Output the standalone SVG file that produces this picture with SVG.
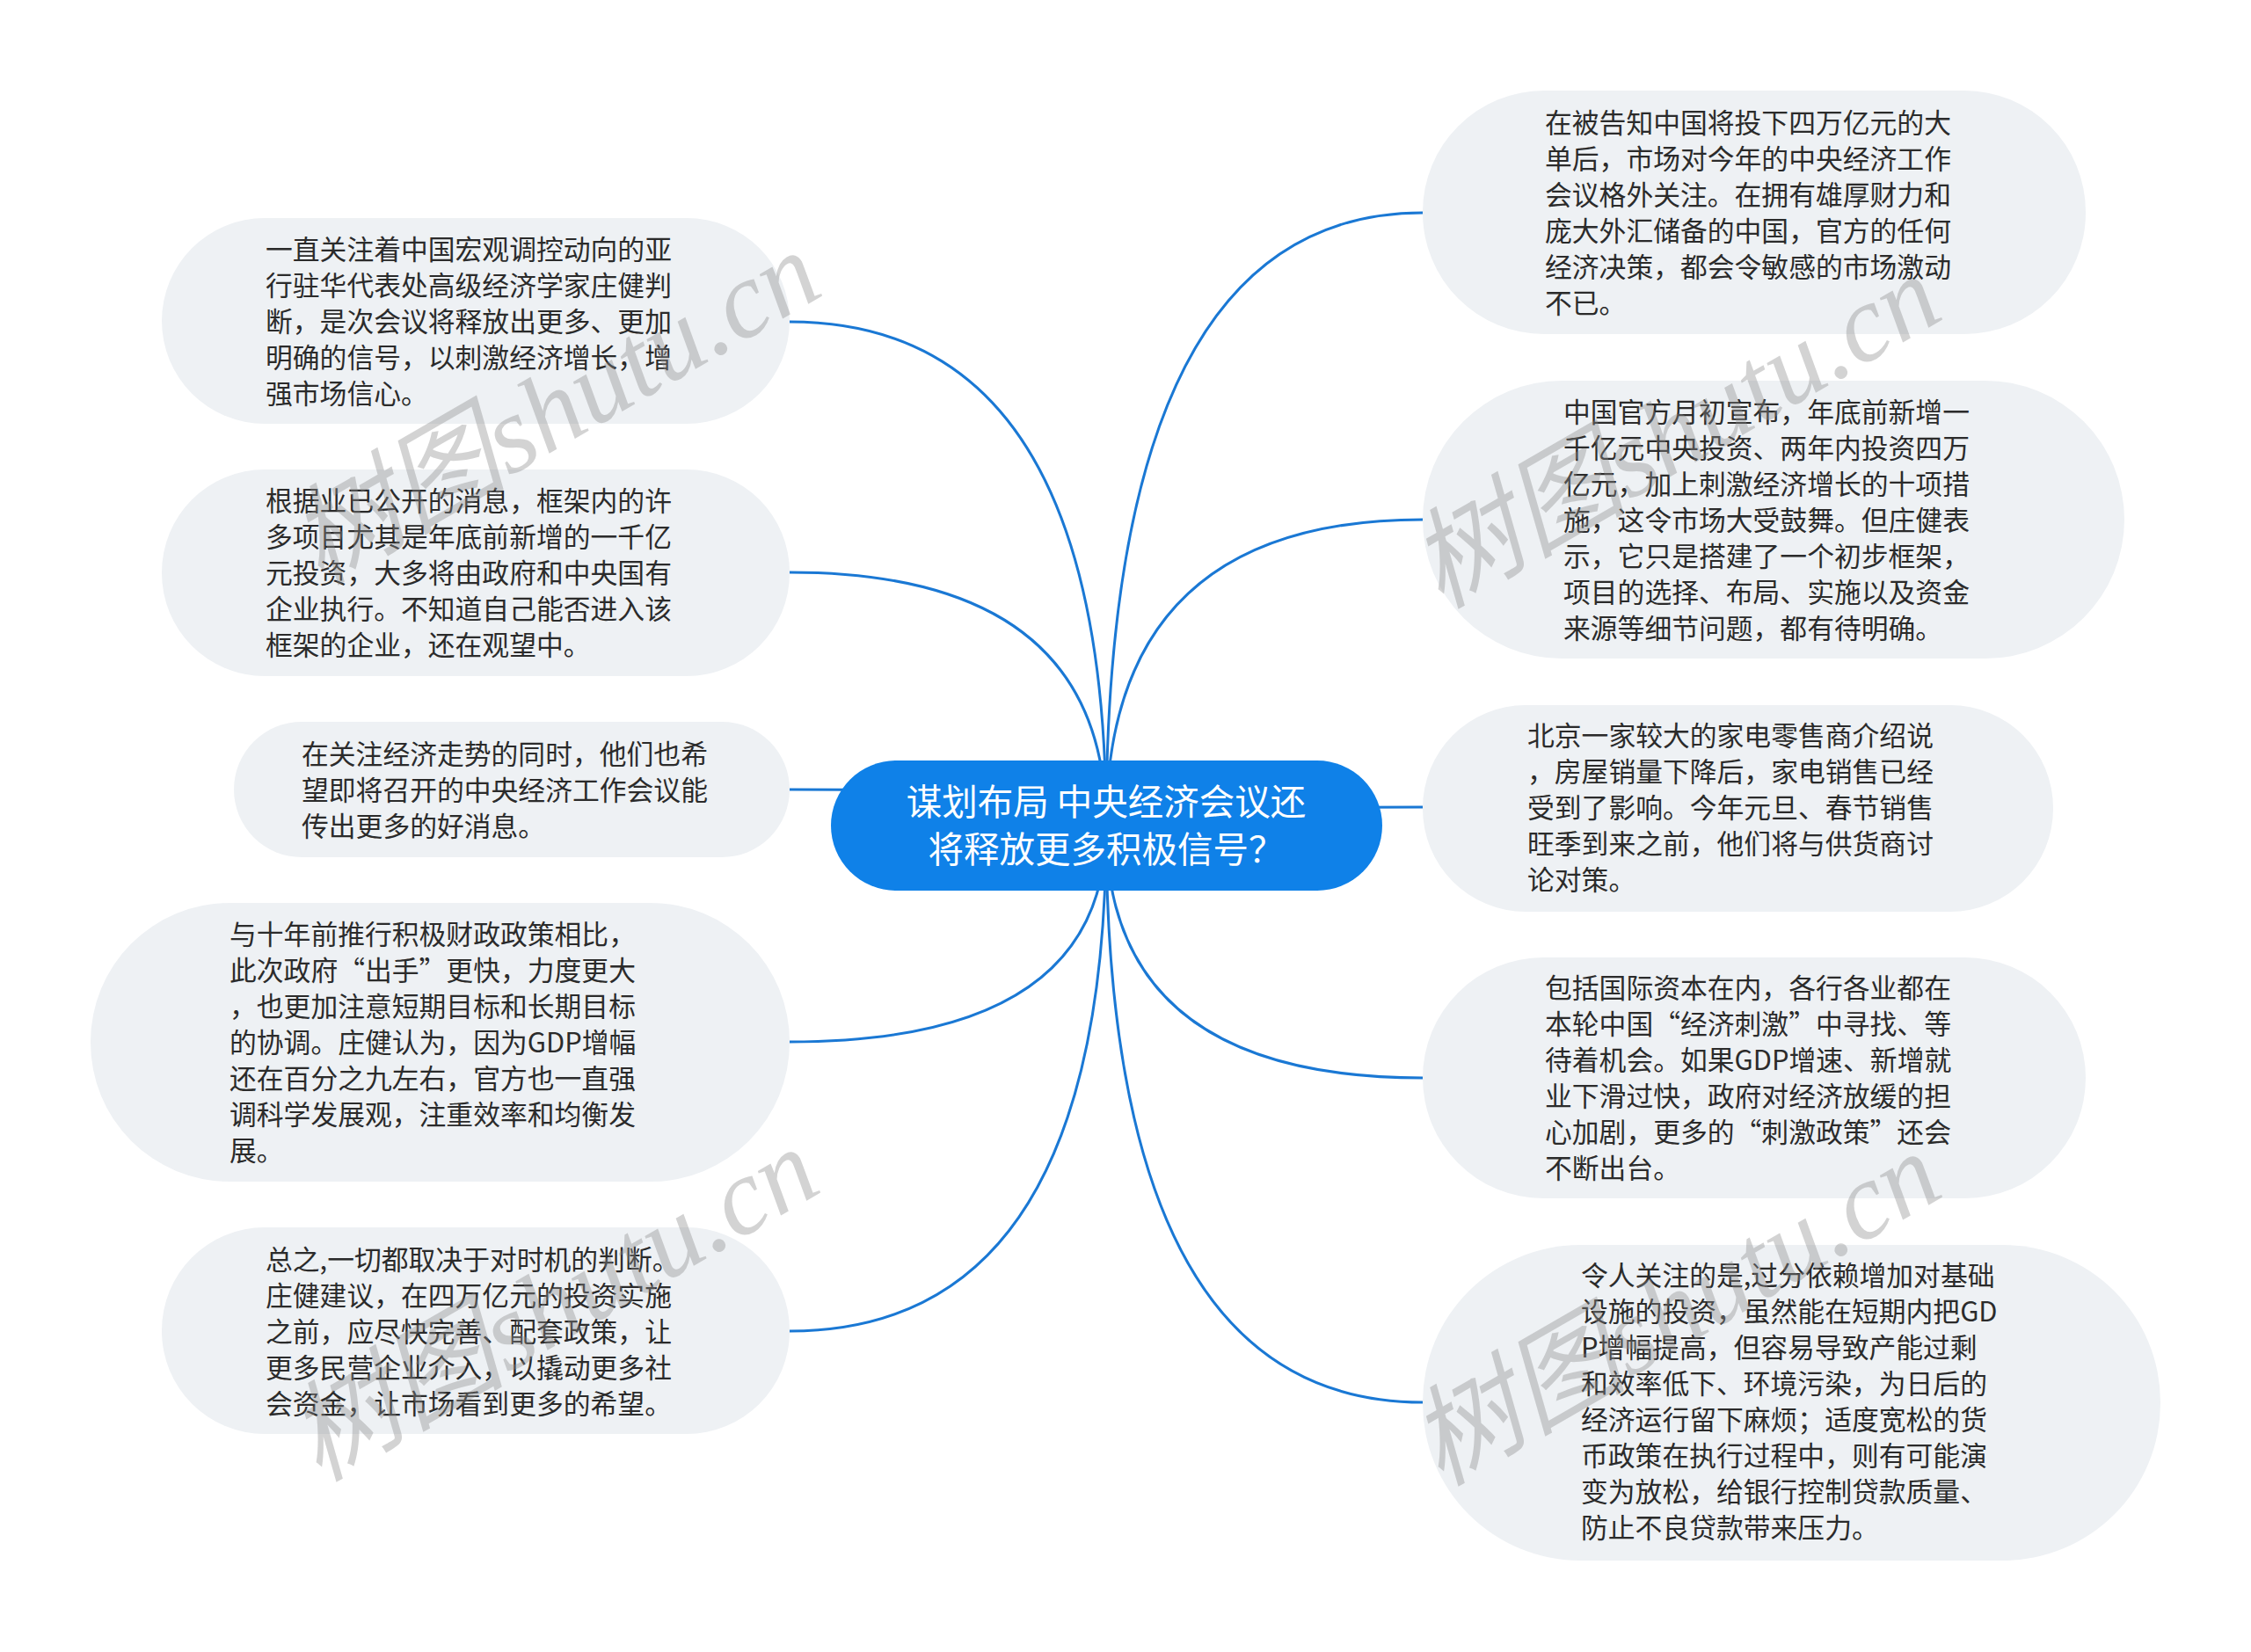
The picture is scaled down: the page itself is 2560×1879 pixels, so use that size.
<svg xmlns="http://www.w3.org/2000/svg" width="2560" height="1879" viewBox="0 0 2560 1879">
<style>
.node{fill:#eef1f4;}
.t{font-family:"Noto Sans CJK SC","Noto Sans",sans-serif;font-size:30.8px;fill:#2b2b2b;}
.ct{font-family:"Noto Sans CJK SC","Noto Sans",sans-serif;font-size:40.5px;fill:#ffffff;text-anchor:middle;}
.edge{fill:none;stroke:#1a78d4;stroke-width:3;}
.wm{font-family:"Liberation Serif","Noto Sans CJK SC",serif;font-style:italic;font-size:124px;fill:#8c8c8c;fill-opacity:0.38;text-anchor:middle;}
</style>
<rect width="2560" height="1879" fill="#ffffff"/>
<g id="connectors">
<path class="edge" d="M1258,940 Q1258,366 898,366"/>
<path class="edge" d="M1258,940 Q1258,651 898,651"/>
<path class="edge" d="M1258,940 Q1258,898 898,898"/>
<path class="edge" d="M1258,940 Q1258,1185 898,1185"/>
<path class="edge" d="M1258,940 Q1258,1514 898,1514"/>
<path class="edge" d="M1258,940 Q1258,242 1618,242"/>
<path class="edge" d="M1258,940 Q1258,591 1618,591"/>
<path class="edge" d="M1258,940 Q1258,918 1618,918"/>
<path class="edge" d="M1258,940 Q1258,1226 1618,1226"/>
<path class="edge" d="M1258,940 Q1258,1595 1618,1595"/>
</g>
<g id="center">
<rect x="945" y="865" width="627" height="148" rx="74" fill="#0f81e8"/>
<text class="ct" x="1258" y="927">谋划布局 中央经济会议还</text>
<text class="ct" x="1258" y="981">将释放更多积极信号？</text>
</g>
<g id="L1">
<rect class="node" x="184" y="248" width="714" height="234" rx="117"/>
<text class="t" x="302"><tspan x="302" y="295">一直关注着中国宏观调控动向的亚</tspan><tspan x="302" y="336">行驻华代表处高级经济学家庄健判</tspan><tspan x="302" y="377">断，是次会议将释放出更多、更加</tspan><tspan x="302" y="418">明确的信号，以刺激经济增长，增</tspan><tspan x="302" y="459">强市场信心。</tspan></text>
</g>
<g id="L2">
<rect class="node" x="184" y="534" width="714" height="235" rx="117"/>
<text class="t"><tspan x="302" y="581">根据业已公开的消息，框架内的许</tspan><tspan x="302" y="622">多项目尤其是年底前新增的一千亿</tspan><tspan x="302" y="663">元投资，大多将由政府和中央国有</tspan><tspan x="302" y="704">企业执行。不知道自己能否进入该</tspan><tspan x="302" y="745">框架的企业，还在观望中。</tspan></text>
</g>
<g id="L3">
<rect class="node" x="266" y="821" width="632" height="154" rx="77"/>
<text class="t"><tspan x="343" y="869">在关注经济走势的同时，他们也希</tspan><tspan x="343" y="910">望即将召开的中央经济工作会议能</tspan><tspan x="343" y="951">传出更多的好消息。</tspan></text>
</g>
<g id="L4">
<rect class="node" x="103" y="1027" width="795" height="317" rx="158"/>
<text class="t"><tspan x="261" y="1074">与十年前推行积极财政政策相比，</tspan><tspan x="261" y="1115">此次政府“出手”更快，力度更大</tspan><tspan x="261" y="1156">，也更加注意短期目标和长期目标</tspan><tspan x="261" y="1197">的协调。庄健认为，因为GDP增幅</tspan><tspan x="261" y="1238">还在百分之九左右，官方也一直强</tspan><tspan x="261" y="1279">调科学发展观，注重效率和均衡发</tspan><tspan x="261" y="1320">展。</tspan></text>
</g>
<g id="L5">
<rect class="node" x="184" y="1396" width="714" height="235" rx="117"/>
<text class="t"><tspan x="302" y="1444">总之,一切都取决于对时机的判断。</tspan><tspan x="302" y="1485">庄健建议，在四万亿元的投资实施</tspan><tspan x="302" y="1526">之前，应尽快完善、配套政策，让</tspan><tspan x="302" y="1567">更多民营企业介入，以撬动更多社</tspan><tspan x="302" y="1608">会资金，让市场看到更多的希望。</tspan></text>
</g>
<g id="R1">
<rect class="node" x="1618" y="103" width="754" height="277" rx="138"/>
<text class="t"><tspan x="1757" y="151">在被告知中国将投下四万亿元的大</tspan><tspan x="1757" y="192">单后，市场对今年的中央经济工作</tspan><tspan x="1757" y="233">会议格外关注。在拥有雄厚财力和</tspan><tspan x="1757" y="274">庞大外汇储备的中国，官方的任何</tspan><tspan x="1757" y="315">经济决策，都会令敏感的市场激动</tspan><tspan x="1757" y="356">不已。</tspan></text>
</g>
<g id="R2">
<rect class="node" x="1618" y="433" width="798" height="316" rx="158"/>
<text class="t"><tspan x="1778" y="480">中国官方月初宣布，年底前新增一</tspan><tspan x="1778" y="521">千亿元中央投资、两年内投资四万</tspan><tspan x="1778" y="562">亿元，加上刺激经济增长的十项措</tspan><tspan x="1778" y="603">施，这令市场大受鼓舞。但庄健表</tspan><tspan x="1778" y="644">示，它只是搭建了一个初步框架，</tspan><tspan x="1778" y="685">项目的选择、布局、实施以及资金</tspan><tspan x="1778" y="726">来源等细节问题，都有待明确。</tspan></text>
</g>
<g id="R3">
<rect class="node" x="1618" y="802" width="717" height="235" rx="117"/>
<text class="t"><tspan x="1737" y="848">北京一家较大的家电零售商介绍说</tspan><tspan x="1737" y="889">，房屋销量下降后，家电销售已经</tspan><tspan x="1737" y="930">受到了影响。今年元旦、春节销售</tspan><tspan x="1737" y="971">旺季到来之前，他们将与供货商讨</tspan><tspan x="1737" y="1012">论对策。</tspan></text>
</g>
<g id="R4">
<rect class="node" x="1618" y="1089" width="754" height="274" rx="137"/>
<text class="t"><tspan x="1757" y="1135">包括国际资本在内，各行各业都在</tspan><tspan x="1757" y="1176">本轮中国“经济刺激”中寻找、等</tspan><tspan x="1757" y="1217">待着机会。如果GDP增速、新增就</tspan><tspan x="1757" y="1258">业下滑过快，政府对经济放缓的担</tspan><tspan x="1757" y="1299">心加剧，更多的“刺激政策”还会</tspan><tspan x="1757" y="1340">不断出台。</tspan></text>
</g>
<g id="R5">
<rect class="node" x="1618" y="1416" width="839" height="359" rx="179"/>
<text class="t"><tspan x="1798" y="1462">令人关注的是,过分依赖增加对基础</tspan><tspan x="1798" y="1503">设施的投资，虽然能在短期内把GD</tspan><tspan x="1798" y="1544">P增幅提高，但容易导致产能过剩</tspan><tspan x="1798" y="1585">和效率低下、环境污染，为日后的</tspan><tspan x="1798" y="1626">经济运行留下麻烦；适度宽松的货</tspan><tspan x="1798" y="1667">币政策在执行过程中，则有可能演</tspan><tspan x="1798" y="1708">变为放松，给银行控制贷款质量、</tspan><tspan x="1798" y="1749">防止不良贷款带来压力。</tspan></text>
</g>
<g id="watermarks">
<text class="wm" transform="translate(652,500) rotate(-30)">树图shutu.cn</text>
<text class="wm" transform="translate(650,1520) rotate(-30)">树图shutu.cn</text>
<text class="wm" transform="translate(1926,527) rotate(-30)">树图shutu.cn</text>
<text class="wm" transform="translate(1926,1525) rotate(-30)">树图shutu.cn</text>
</g>
</svg>
